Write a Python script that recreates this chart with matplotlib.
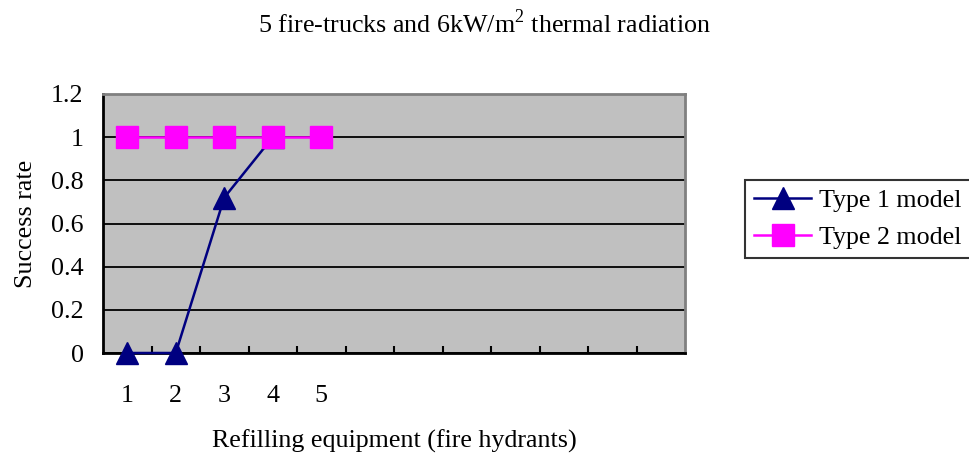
import numpy as np
import matplotlib
matplotlib.use('Agg')
import matplotlib.pyplot as plt

# data
categories = [1, 2, 3, 4, 5]
type1 = [0, 0, 0.72, 1]
type2 = [1, 1, 1, 1, 1]
n_slots = 12  # category slots on the x axis (only 5 labelled)

plt.rcParams['font.family'] = ['Liberation Serif', 'DejaVu Serif']
fs = 18.7

fig = plt.figure(figsize=(9.69, 4.57), dpi=100)
W, H = 969, 457
ax = fig.add_axes([103 / W, 1 - 353 / H, (685 - 103) / W, (353 - 94) / H])
ax.set_facecolor('#C0C0C0')

ax.plot(categories[:len(type1)], type1, color='#000080', lw=1.8,
        marker='^', ms=16.5, mec='#000080', mfc='#000080', label='Type 1 model', zorder=3, clip_on=False)
ax.plot(categories, type2, color='#FF00FF', lw=1.8,
        marker='s', ms=16, mec='#FF00FF', mfc='#FF00FF', label='Type 2 model', zorder=4, clip_on=False)

ax.set_xlim(0.5, n_slots + 0.5)
ax.set_ylim(0, 1.2)
ax.set_yticks(np.arange(0, 1.21, 0.2))
ax.set_yticklabels(['0', '0.2', '0.4', '0.6', '0.8', '1', '1.2'])
ax.yaxis.grid(True, color='black', lw=1.3, zorder=1)
ax.set_axisbelow(True)

ax.set_xticks(categories)
ax.set_xticklabels([str(c) for c in categories])
ax.set_xticks(np.arange(1.5, n_slots, 1), minor=True)
ax.tick_params(axis='x', which='major', length=0, pad=23, labelsize=fs)
ax.tick_params(axis='x', which='minor', direction='in', length=5, width=1.5)
ax.tick_params(axis='y', length=0, pad=14, labelsize=fs)

for side in ['left', 'bottom']:
    ax.spines[side].set_color('black')
    ax.spines[side].set_linewidth(2)
for side in ['top', 'right']:
    ax.spines[side].set_color('#808080')
    ax.spines[side].set_linewidth(2)

ax.set_xlabel('Refilling equipment (fire hydrants)', fontsize=fs, labelpad=16)
ax.set_ylabel('Success rate', fontsize=fs, labelpad=10)
fig.text(0.5, 1 - 24 / H, r'5 fire-trucks and 6kW/m$^{\mathregular{2}}$ thermal radiation',
         ha='center', va='center', fontsize=fs)

leg = fig.legend(loc='center left', bbox_to_anchor=(745 / W, 1 - 219 / H), fontsize=fs,
                 frameon=True, fancybox=False, edgecolor='black', handlelength=2.2,
                 borderpad=0.35, labelspacing=0.55, handletextpad=0.3, borderaxespad=0)
leg.get_frame().set_linewidth(1.5)

fig.savefig('out.png', dpi=100)
